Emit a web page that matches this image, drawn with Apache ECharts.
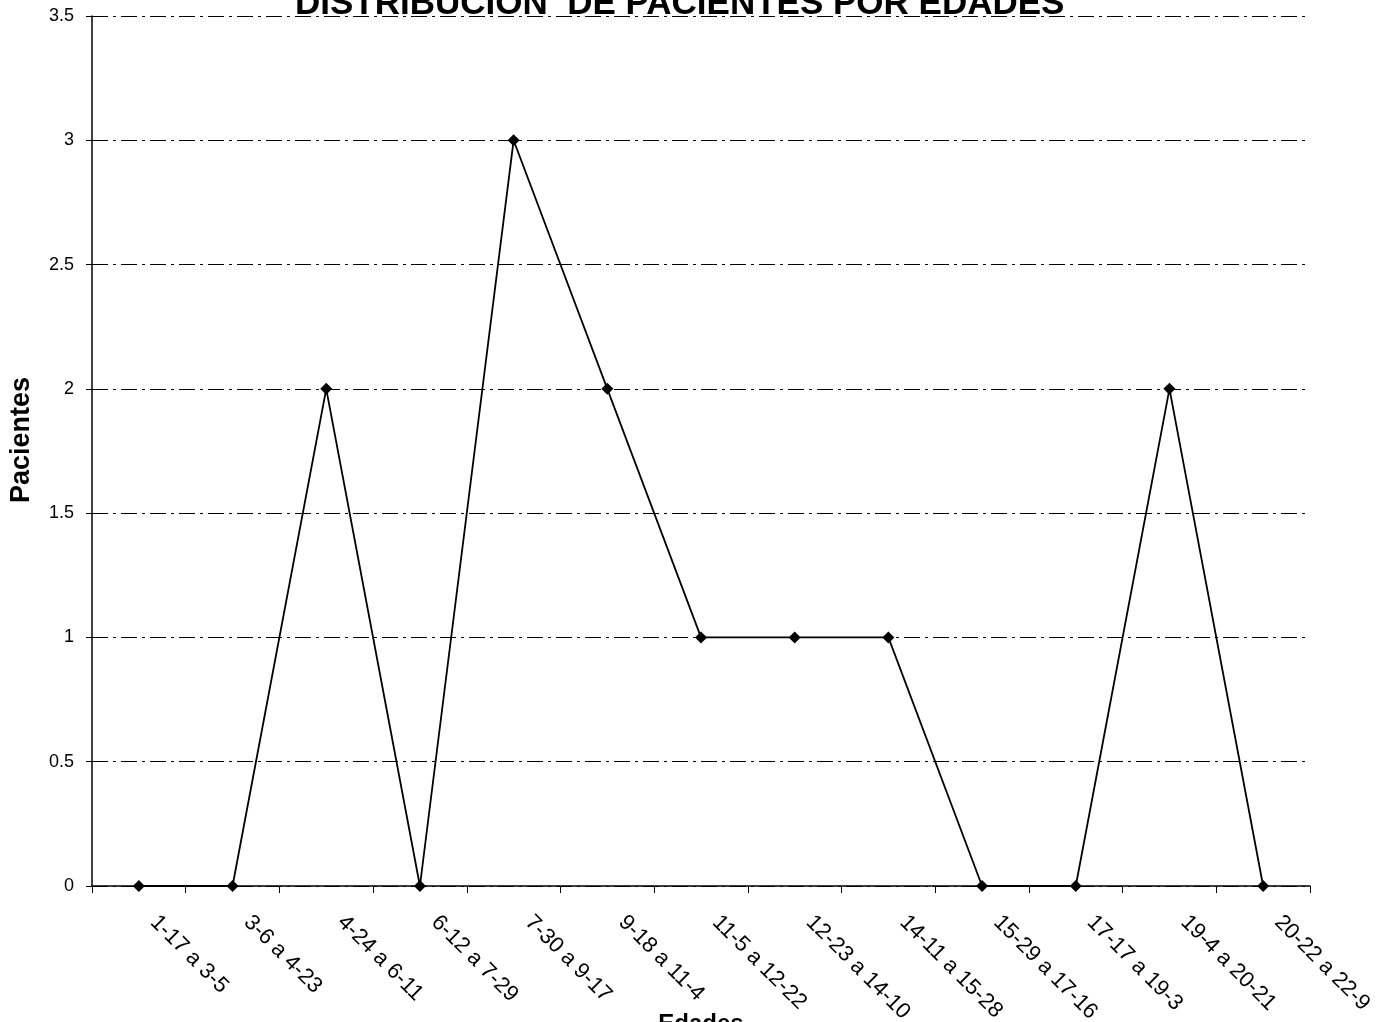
<!DOCTYPE html>
<html>
<head>
<meta charset="utf-8">
<script src="https://cdn.jsdelivr.net/npm/echarts@6/dist/echarts.min.js"></script>
<style>
  html, body { margin: 0; padding: 0; background: #fff; overflow: hidden; }
  #chart { width: 1385px; height: 1022px; }
</style>
</head>
<body>
<div id="chart"></div>
<script>
// Age ranges (categories) and number of patients in each
const edades = ['1-17 a 3-5', '3-6 a 4-23', '4-24 a 6-11', '6-12 a 7-29', '7-30 a 9-17',
  '9-18 a 11-4', '11-5 a 12-22', '12-23 a 14-10', '14-11 a 15-28', '15-29 a 17-16',
  '17-17 a 19-3', '19-4 a 20-21', '20-22 a 22-9'];
const pacientes = [0, 0, 2, 0, 3, 2, 1, 1, 1, 0, 0, 2, 0];

const chart = echarts.init(document.getElementById('chart'), null, { width: 1385, height: 1022 });
const font = 'Arial, "Liberation Sans", sans-serif';

chart.setOption({
  backgroundColor: '#fff',
  animation: false,
  title: {
    text: 'DISTRIBUCION  DE PACIENTES POR EDADES',
    left: 290,
    top: -18,
    textStyle: { fontFamily: font, fontWeight: 'bold', fontSize: 35, color: '#000' }
  },
  grid: {
    left: 92, top: 16, width: 1218, height: 870,
    containLabel: false,
    outerBoundsMode: 'none'
  },
  xAxis: {
    type: 'category',
    data: edades,
    boundaryGap: true,
    name: 'Edades',
    nameLocation: 'middle',
    nameGap: 126,
    nameMoveOverlap: false,
    nameTextStyle: { fontFamily: font, fontWeight: 'bold', fontSize: 24, color: '#000' },
    axisLine: { lineStyle: { color: '#000', width: 1.5 } },
    axisTick: { show: true, alignWithLabel: false, length: 7, lineStyle: { color: '#000', width: 1 } },
    axisLabel: {
      interval: 0, rotate: -45, margin: 18, padding: [0, 0, 0, 21],
      fontFamily: font, fontSize: 22, color: '#000'
    },
    splitLine: { show: false }
  },
  yAxis: {
    type: 'value',
    min: 0, max: 3.5, interval: 0.5,
    name: 'Pacientes',
    nameLocation: 'middle',
    nameGap: 57,
    nameMoveOverlap: false,
    nameTextStyle: {
      fontFamily: font, fontWeight: 'bold', fontSize: 27, color: '#000',
      padding: [0, 0, 0, 22]
    },
    axisLine: { show: true, lineStyle: { color: '#000', width: 1.5 } },
    axisTick: { show: true, length: 6, lineStyle: { color: '#000' } },
    axisLabel: { fontFamily: font, fontSize: 18, color: '#000', margin: 18 },
    splitLine: { show: true, lineStyle: { color: '#000', width: 1, type: [16, 5, 3, 5] } }
  },
  series: [{
    type: 'line',
    data: pacientes,
    symbol: 'diamond',
    symbolSize: 12,
    itemStyle: { color: '#000' },
    lineStyle: { color: '#000', width: 1.8 }
  }]
});
</script>
</body>
</html>
